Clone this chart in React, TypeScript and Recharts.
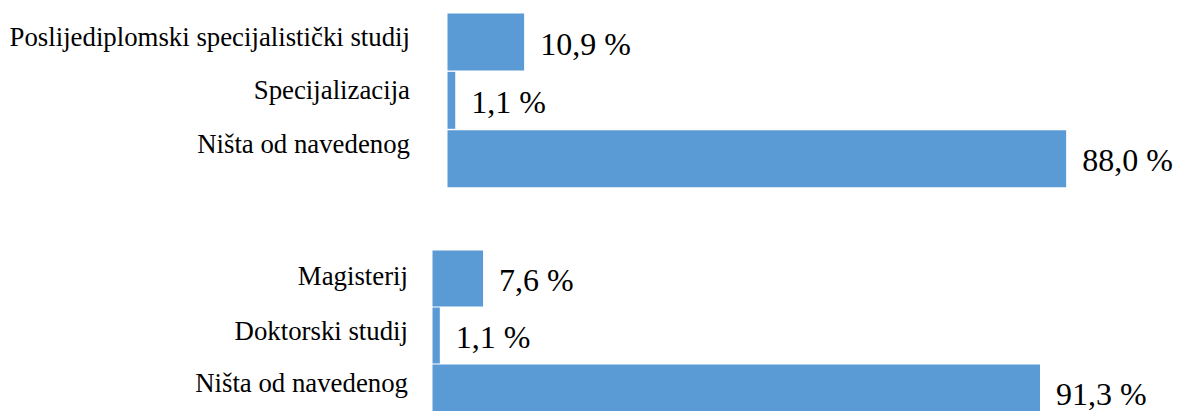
import React from 'react'
import { BarChart, Bar, XAxis, YAxis, LabelList } from 'recharts'

// top group
const topCategories = ['Poslijediplomski specijalistički studij', 'Specijalizacija', 'Ništa od navedenog']
const topValues = [10.9, 1.1, 88.0]

// bottom group
const bottomCategories = ['Magisterij', 'Doktorski studij', 'Ništa od navedenog']
const bottomValues = [7.6, 1.1, 91.3]

const barColor = '#5B9BD5'
const font = "Times New Roman, Liberation Serif, DejaVu Serif, serif"

const fmt = (v: number) => v.toFixed(1).replace('.', ',') + ' %'

function CategoryTick({ x, y, payload, index, shifts }: any) {
  return (
    <text x={x} y={y + shifts[index]} textAnchor="end" style={{ fontFamily: font, fontSize: 26.8 }} fill="#000">
      {payload.value}
    </text>
  )
}

function ValueLabel({ x, y, width, height, value }: any) {
  return (
    <text x={x + width + 16} y={y + height / 2 + 12.5} style={{ fontFamily: font, fontSize: 32 }} fill="#000">
      {fmt(value)}
    </text>
  )
}

function Group({ categories, values, axisWidth, tickGap, rightMargin, topMargin, bottomMargin, shifts }: any) {
  const rows = categories.map((c: string, i: number) => ({ name: c, value: values[i] }))
  return (
    <BarChart
      width={1179}
      height={200}
      data={rows}
      layout="vertical"
      barCategoryGap={0.5}
      margin={{ top: topMargin, right: rightMargin, bottom: bottomMargin, left: 0 }}
    >
      <XAxis type="number" domain={[0, 100]} hide />
      <YAxis
        type="category"
        dataKey="name"
        width={axisWidth}
        axisLine={false}
        tickLine={false}
        tickSize={0}
        tickMargin={tickGap}
        interval={0}
        tick={<CategoryTick shifts={shifts} />}
      />
      <Bar dataKey="value" fill={barColor} isAnimationActive={false}>
        <LabelList dataKey="value" content={<ValueLabel />} />
      </Bar>
    </BarChart>
  )
}

export default function App() {
  return (
    <div style={{ position: 'absolute', left: 0, top: 0, width: 1179, height: 411, overflow: 'hidden', background: '#fff' }}>
      <div style={{ position: 'absolute', left: 0, top: 0 }}>
        <Group
          categories={topCategories}
          values={topValues}
          axisWidth={447.5}
          tickGap={37.5}
          rightMargin={28.5}
          topMargin={13}
          bottomMargin={12}
          shifts={[3.5, -2, -5.5]}
        />
      </div>
      <div style={{ position: 'absolute', left: 0, top: 230 }}>
        <Group
          categories={bottomCategories}
          values={bottomValues}
          axisWidth={432.5}
          tickGap={24.5}
          rightMargin={81.1}
          topMargin={20}
          bottomMargin={9}
          shifts={[6.5, 4.5, -0.8]}
        />
      </div>
    </div>
  )
}
